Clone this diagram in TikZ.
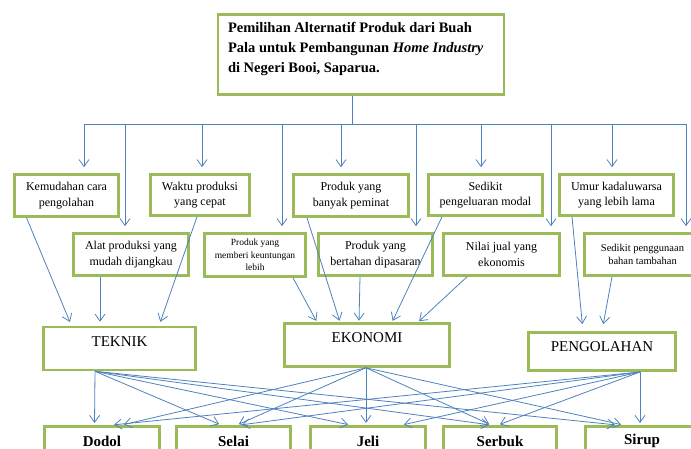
\documentclass[tikz,border=0pt]{standalone}
\usepackage{fontspec}
\setmainfont{Liberation Serif}
\usetikzlibrary{arrows.meta}
\definecolor{boxgreen}{HTML}{9BBB59}
\definecolor{lineblue}{HTML}{4F81BD}
\tikzset{
  titlebox/.style={draw=boxgreen,line width=2.6pt,fill=white,inner xsep=10pt,inner ysep=8pt},
  critbox/.style={draw=boxgreen,line width=2.6pt,fill=white,align=center,inner sep=1pt,
                  font=\fontsize{12}{15.5}\selectfont},
  catbox/.style={draw=boxgreen,line width=2.6pt,fill=white,inner ysep=6pt,
                 text height=13pt,text depth=18pt,font=\fontsize{15}{18}\selectfont},
  prodbox/.style={draw=boxgreen,line width=2.6pt,fill=white,minimum height=30pt,
                  font=\bfseries\fontsize{15}{18}\selectfont},
  conn/.style={lineblue,line width=0.8pt},
  arr/.style={conn,-{Straight Barb[length=7pt,width=10pt]}},
}
\begin{document}
\begin{tikzpicture}[x=1pt,y=-1pt]
  \clip (0,0) rectangle (691,449);
  % title
  \node[titlebox] (judul) at (361,54.5){\parbox[c][64pt][t]{266pt}{\bfseries\fontsize{14.5}{20}\selectfont
    Pemilihan Alternatif Produk dari Buah\\
    Pala untuk Pembangunan \textit{Home Industry}\\
    di Negeri Booi, Saparua.}};
  % criteria, upper row
  \node[critbox,minimum width=104,minimum height=42] (kemudahan) at (66.5,195.5){Kemudahan cara\\pengolahan};
  \node[critbox,minimum width=99,minimum height=41] (waktu) at (200,195){Waktu produksi\\yang cepat};
  \node[critbox,minimum width=115,minimum height=42] (peminat) at (351,195.5){Produk yang\\banyak peminat};
  \node[critbox,minimum width=114,minimum height=41] (pengeluaran) at (485.5,195){Sedikit\\pengeluaran modal};
  \node[critbox,minimum width=114,minimum height=41] (umur) at (616.5,195){Umur kadaluwarsa\\yang lebih lama};
  % criteria, lower row
  \node[critbox,minimum width=115,minimum height=42] (alat) at (131,254.5){Alat produksi yang\\mudah dijangkau};
  \node[critbox,minimum width=101,minimum height=43,font=\fontsize{9.5}{12.5}\selectfont] (memberi) at (255,255)
       {Produk yang\\memberi keuntungan\\lebih};
  \node[critbox,minimum width=114,minimum height=42] (bertahan) at (375.5,254.5){Produk yang\\bertahan dipasaran};
  \node[critbox,minimum width=116,minimum height=42] (nilai) at (501.5,254.5){Nilai jual yang\\ekonomis};
  \node[critbox,minimum width=116,minimum height=42,font=\fontsize{10.5}{13}\selectfont] (penggunaan) at (642.5,254.5)
       {Sedikit penggunaan\\bahan tambahan};
  % aspects
  \node[catbox,minimum width=152.4] (teknik) at (119.5,348.5){TEKNIK};
  \node[catbox,minimum width=165.4] (ekonomi) at (367,345){EKONOMI};
  \node[catbox,minimum width=147.4,text depth=13.4pt] (pengolahan) at (602,351.5){PENGOLAHAN};
  % products
  \node[prodbox,minimum width=115.4] (dodol) at (102,441.3){Dodol};
  \node[prodbox,minimum width=114.4] (selai) at (233.5,441.3){Selai};
  \node[prodbox,minimum width=115.4] (jeli) at (368,441.3){Jeli};
  \node[prodbox,minimum width=113.4] (serbuk) at (500,441.3){Serbuk};
  \node[prodbox,minimum width=113.4] (sirup) at (642,441.3){Sirup};

  % title to criteria
  \coordinate (bus) at (352,124);
  \foreach \n/\d in {kemudahan/17.5,alat/-6,waktu/2,memberi/27,peminat/-10,
                     bertahan/40.5,pengeluaran/-4.5,nilai/49.5,umur/-4.5,penggunaan/43.5}
    \coordinate (d\n) at ([xshift=\d pt]\n.north);
  \draw[conn] (judul.south -| bus) -- (bus);
  \draw[conn] (dkemudahan |- bus) -- (dpenggunaan |- bus);
  \foreach \n in {kemudahan,alat,waktu,memberi,peminat,bertahan,pengeluaran,nilai,umur,penggunaan}
    \draw[arr,shorten >=6pt] (d\n |- bus) -- (d\n);

  % criteria to aspects
  \foreach \a/\sa/\b/\sb/\sh in {kemudahan/-40/teknik/-48/4,alat/-31/teknik/-19.5/4,waktu/-3/teknik/39.5/4,
      memberi/38/ekonomi/-50/1.5,peminat/-44/ekonomi/-27/1.5,bertahan/-15.5/ekonomi/-8/1.5,
      pengeluaran/-43.5/ekonomi/25/1.5,nilai/-34.5/ekonomi/51/1.5,
      umur/-44.5/pengolahan/-19/7,penggunaan/-30.5/pengolahan/0/7}
    \draw[arr,shorten >=\sh pt] ([xshift=\sa pt]\a.south) -- ([xshift=\sb pt]\b.north);

  % aspects to products
  \foreach \b/\sb in {dodol/-7.5,selai/-12.5,jeli/-18,serbuk/-9,sirup/-25}
    \draw[arr,shorten >=2pt] ([xshift=-24.5pt]teknik.south) -- ([xshift=\sb pt]\b.north);
  \foreach \b/\sb in {dodol/20,selai/3.5,jeli/-2,serbuk/-9,sirup/-19}
    \draw[arr,shorten >=2pt] ([xshift=-1pt]ekonomi.south) -- ([xshift=\sb pt]\b.north);
  \foreach \b/\sb in {dodol/10,selai/6.5,jeli/34,serbuk/-2,sirup/-2}
    \draw[arr,shorten >=2pt] ([xshift=38pt]pengolahan.south) -- ([xshift=\sb pt]\b.north);
\end{tikzpicture}
\end{document}
